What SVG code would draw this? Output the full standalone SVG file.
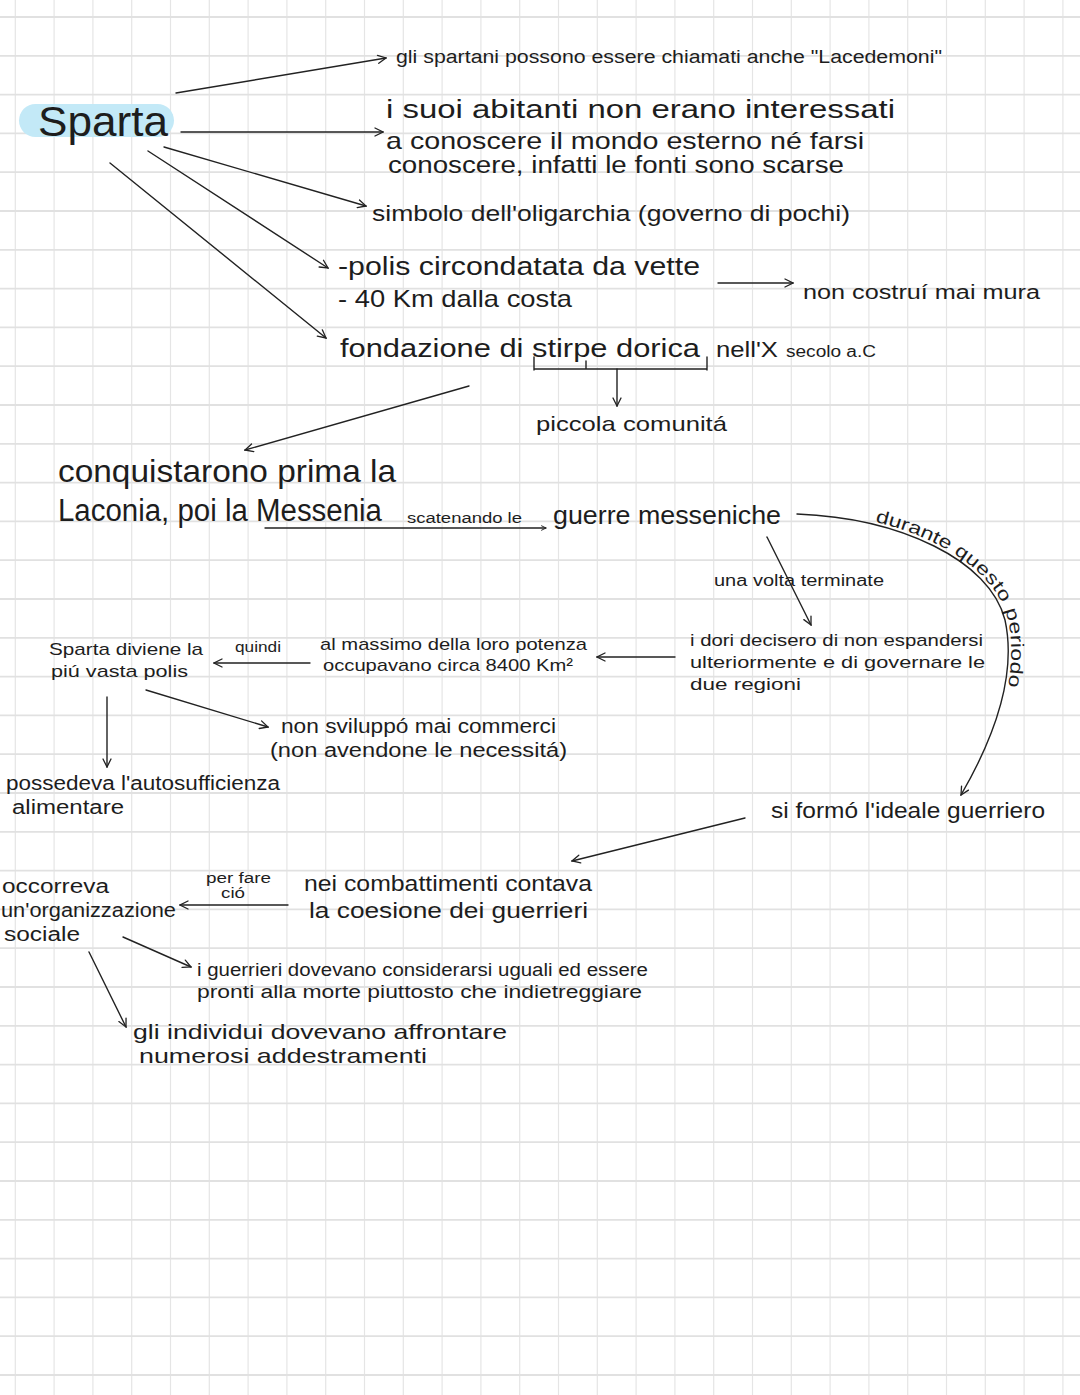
<svg xmlns="http://www.w3.org/2000/svg" width="1080" height="1395" viewBox="0 0 1080 1395">
<style>
.t{font-family:"Liberation Sans",Arial,sans-serif;fill:#1d1d1d}
.c{stroke:#222;stroke-width:1.4;fill:none;stroke-linecap:round}
.gv{stroke:#e5e5e5;stroke-width:1.2}
.gh{stroke:#e1e1e1;stroke-width:1.8}
</style>
<defs>
<marker id="ah" viewBox="0 0 10 10" refX="9" refY="5" markerWidth="10" markerHeight="10" markerUnits="userSpaceOnUse" orient="auto">
<path d="M1,1 L9,5 L1,9" fill="none" stroke="#222" stroke-width="1.3" stroke-linecap="round"/>
</marker>
<marker id="ahs" viewBox="0 0 10 10" refX="9" refY="5" markerWidth="6" markerHeight="6" markerUnits="userSpaceOnUse" orient="auto">
<path d="M1,1 L9,5 L1,9" fill="none" stroke="#222" stroke-width="1.6"/>
</marker>
<path id="arc" d="M797,514 C900,518 990,560 1005,620 C1018,680 990,745 961,795"/>
</defs>
<rect width="1080" height="1395" fill="#ffffff"/>
<g id="grid">
<g class="gv">
<line x1="15.3" y1="0" x2="15.3" y2="1395"/><line x1="54.1" y1="0" x2="54.1" y2="1395"/><line x1="92.9" y1="0" x2="92.9" y2="1395"/><line x1="131.7" y1="0" x2="131.7" y2="1395"/><line x1="170.5" y1="0" x2="170.5" y2="1395"/><line x1="209.3" y1="0" x2="209.3" y2="1395"/><line x1="248.1" y1="0" x2="248.1" y2="1395"/><line x1="286.9" y1="0" x2="286.9" y2="1395"/><line x1="325.7" y1="0" x2="325.7" y2="1395"/><line x1="364.5" y1="0" x2="364.5" y2="1395"/><line x1="403.3" y1="0" x2="403.3" y2="1395"/><line x1="442.1" y1="0" x2="442.1" y2="1395"/><line x1="480.9" y1="0" x2="480.9" y2="1395"/><line x1="519.7" y1="0" x2="519.7" y2="1395"/><line x1="558.5" y1="0" x2="558.5" y2="1395"/><line x1="597.3" y1="0" x2="597.3" y2="1395"/><line x1="636.1" y1="0" x2="636.1" y2="1395"/><line x1="674.9" y1="0" x2="674.9" y2="1395"/><line x1="713.7" y1="0" x2="713.7" y2="1395"/><line x1="752.5" y1="0" x2="752.5" y2="1395"/><line x1="791.3" y1="0" x2="791.3" y2="1395"/><line x1="830.1" y1="0" x2="830.1" y2="1395"/><line x1="868.9" y1="0" x2="868.9" y2="1395"/><line x1="907.7" y1="0" x2="907.7" y2="1395"/><line x1="946.5" y1="0" x2="946.5" y2="1395"/><line x1="985.3" y1="0" x2="985.3" y2="1395"/><line x1="1024.1" y1="0" x2="1024.1" y2="1395"/><line x1="1062.9" y1="0" x2="1062.9" y2="1395"/>
</g>
<g class="gh">
<line x1="0" y1="17" x2="1080" y2="17"/><line x1="0" y1="55.8" x2="1080" y2="55.8"/><line x1="0" y1="94.6" x2="1080" y2="94.6"/><line x1="0" y1="133.4" x2="1080" y2="133.4"/><line x1="0" y1="172.2" x2="1080" y2="172.2"/><line x1="0" y1="211" x2="1080" y2="211"/><line x1="0" y1="249.8" x2="1080" y2="249.8"/><line x1="0" y1="288.6" x2="1080" y2="288.6"/><line x1="0" y1="327.4" x2="1080" y2="327.4"/><line x1="0" y1="366.2" x2="1080" y2="366.2"/><line x1="0" y1="405" x2="1080" y2="405"/><line x1="0" y1="443.8" x2="1080" y2="443.8"/><line x1="0" y1="482.6" x2="1080" y2="482.6"/><line x1="0" y1="521.4" x2="1080" y2="521.4"/><line x1="0" y1="560.2" x2="1080" y2="560.2"/><line x1="0" y1="599" x2="1080" y2="599"/><line x1="0" y1="637.8" x2="1080" y2="637.8"/><line x1="0" y1="676.6" x2="1080" y2="676.6"/><line x1="0" y1="715.4" x2="1080" y2="715.4"/><line x1="0" y1="754.2" x2="1080" y2="754.2"/><line x1="0" y1="793" x2="1080" y2="793"/><line x1="0" y1="831.8" x2="1080" y2="831.8"/><line x1="0" y1="870.6" x2="1080" y2="870.6"/><line x1="0" y1="909.4" x2="1080" y2="909.4"/><line x1="0" y1="948.2" x2="1080" y2="948.2"/><line x1="0" y1="987" x2="1080" y2="987"/><line x1="0" y1="1025.8" x2="1080" y2="1025.8"/><line x1="0" y1="1064.6" x2="1080" y2="1064.6"/><line x1="0" y1="1103.4" x2="1080" y2="1103.4"/><line x1="0" y1="1142.2" x2="1080" y2="1142.2"/><line x1="0" y1="1181" x2="1080" y2="1181"/><line x1="0" y1="1219.8" x2="1080" y2="1219.8"/><line x1="0" y1="1258.6" x2="1080" y2="1258.6"/><line x1="0" y1="1297.4" x2="1080" y2="1297.4"/><line x1="0" y1="1336.2" x2="1080" y2="1336.2"/><line x1="0" y1="1375" x2="1080" y2="1375"/>
</g>
</g>

<g id="connectors">
<path class="c" marker-end="url(#ah)" d="M176,93 L386,58"/>
<path class="c" marker-end="url(#ah)" d="M181,132 L383,132"/>
<path class="c" marker-end="url(#ah)" d="M164,147 L366,206"/>
<path class="c" marker-end="url(#ah)" d="M148,151 L328,268"/>
<path class="c" marker-end="url(#ah)" d="M110,163 L326,338"/>
<path class="c" marker-end="url(#ah)" d="M718,283 L793,283"/>
<path class="c" d="M534,357 L534,370 M534,369 L707,369 M707,357 L707,370 M586,361 L586,369"/>
<path class="c" marker-end="url(#ah)" d="M617,369 L617,406"/>
<path class="c" marker-end="url(#ah)" d="M469,386 L245,450"/>
<path class="c" marker-end="url(#ahs)" d="M265,528 L546,528"/>
<path class="c" marker-end="url(#ah)" d="M797,514 C900,518 990,560 1005,620 C1018,680 990,745 961,795"/>
<path class="c" marker-end="url(#ah)" d="M767,537 L811,625"/>
<path class="c" marker-end="url(#ah)" d="M675,657 L597,657"/>
<path class="c" marker-end="url(#ah)" d="M310,663 L214,663"/>
<path class="c" marker-end="url(#ah)" d="M107,697 L107,767"/>
<path class="c" marker-end="url(#ah)" d="M146,690 L268,727"/>
<path class="c" marker-end="url(#ah)" d="M745,818 L572,861"/>
<path class="c" marker-end="url(#ah)" d="M288,905 L180,905"/>
<path class="c" marker-end="url(#ah)" d="M123,937 L191,967"/>
<path class="c" marker-end="url(#ah)" d="M89,952 L126,1027"/>
</g>

<g id="sparta">
<rect x="19" y="104" width="155" height="33" rx="16.5" fill="#c3e9f7"/>
<text class="t" x="38" y="136" font-size="42" textLength="130" lengthAdjust="spacingAndGlyphs">Sparta</text>
</g>
<g id="n-lacedemoni"><text class="t" x="396" y="63" font-size="18" textLength="546" lengthAdjust="spacingAndGlyphs">gli spartani possono essere chiamati anche "Lacedemoni"</text></g>
<g id="n-abitanti">
<text class="t" x="386" y="118" font-size="25" textLength="509" lengthAdjust="spacingAndGlyphs">i suoi abitanti non erano interessati</text>
<text class="t" x="386" y="149" font-size="24" textLength="478" lengthAdjust="spacingAndGlyphs">a conoscere il mondo esterno né farsi</text>
<text class="t" x="388" y="173" font-size="23" textLength="456" lengthAdjust="spacingAndGlyphs">conoscere, infatti le fonti sono scarse</text>
</g>
<g id="n-oligarchia"><text class="t" x="372" y="221" font-size="22" textLength="478" lengthAdjust="spacingAndGlyphs">simbolo dell'oligarchia (governo di pochi)</text></g>
<g id="n-polis">
<text class="t" x="338" y="275" font-size="25" textLength="362" lengthAdjust="spacingAndGlyphs">-polis circondatata da vette</text>
<text class="t" x="338" y="307" font-size="24" textLength="234" lengthAdjust="spacingAndGlyphs">- 40 Km dalla costa</text>
</g>
<g id="n-mura"><text class="t" x="803" y="299" font-size="20" textLength="237" lengthAdjust="spacingAndGlyphs">non costruí mai mura</text></g>
<g id="n-fondazione">
<text class="t" x="340" y="357" font-size="26" textLength="360" lengthAdjust="spacingAndGlyphs">fondazione di stirpe dorica</text>
<text class="t" x="716" y="357" font-size="22" textLength="62" lengthAdjust="spacingAndGlyphs">nell'X</text>
<text class="t" x="786" y="357" font-size="16" textLength="90" lengthAdjust="spacingAndGlyphs">secolo a.C</text>
</g>
<g id="n-comunita"><text class="t" x="536" y="431" font-size="21" textLength="191" lengthAdjust="spacingAndGlyphs">piccola comunitá</text></g>
<g id="n-conquista">
<text class="t" x="58" y="482" font-size="32" textLength="338" lengthAdjust="spacingAndGlyphs">conquistarono prima la</text>
<text class="t" x="58" y="521" font-size="31" textLength="324" lengthAdjust="spacingAndGlyphs">Laconia, poi la Messenia</text>
</g>
<g id="l-scatenando"><text class="t" x="407" y="523" font-size="14" textLength="115" lengthAdjust="spacingAndGlyphs">scatenando le</text></g>
<g id="n-guerre"><text class="t" x="553" y="524" font-size="25" textLength="228" lengthAdjust="spacingAndGlyphs">guerre messeniche</text></g>
<g id="l-durante">
<text class="t" font-size="18" dy="-3"><textPath href="#arc" startOffset="78" textLength="78" lengthAdjust="spacingAndGlyphs">durante</textPath></text>
<text class="t" font-size="18" dy="-3"><textPath href="#arc" startOffset="162" textLength="69" lengthAdjust="spacingAndGlyphs">questo</textPath></text>
<text class="t" font-size="18" dy="-3"><textPath href="#arc" startOffset="237.5" textLength="76.5" lengthAdjust="spacingAndGlyphs">periodo</textPath></text>
</g>
<g id="l-terminate"><text class="t" x="714" y="586" font-size="16" textLength="170" lengthAdjust="spacingAndGlyphs">una volta terminate</text></g>
<g id="n-dori">
<text class="t" x="690" y="646" font-size="17" textLength="293" lengthAdjust="spacingAndGlyphs">i dori decisero di non espandersi</text>
<text class="t" x="690" y="668" font-size="17" textLength="295" lengthAdjust="spacingAndGlyphs">ulteriormente e di governare le</text>
<text class="t" x="690" y="690" font-size="17" textLength="111" lengthAdjust="spacingAndGlyphs">due regioni</text>
</g>
<g id="n-potenza">
<text class="t" x="320" y="650" font-size="17" textLength="267" lengthAdjust="spacingAndGlyphs">al massimo della loro potenza</text>
<text class="t" x="323" y="671" font-size="17" textLength="250" lengthAdjust="spacingAndGlyphs">occupavano circa 8400 Km²</text>
</g>
<g id="l-quindi"><text class="t" x="235" y="652" font-size="15" textLength="46" lengthAdjust="spacingAndGlyphs">quindi</text></g>
<g id="n-vasta">
<text class="t" x="49" y="655" font-size="17" textLength="154" lengthAdjust="spacingAndGlyphs">Sparta diviene la</text>
<text class="t" x="51" y="677" font-size="17" textLength="137" lengthAdjust="spacingAndGlyphs">piú vasta polis</text>
</g>
<g id="n-commerci">
<text class="t" x="281" y="733" font-size="20" textLength="275" lengthAdjust="spacingAndGlyphs">non sviluppó mai commerci</text>
<text class="t" x="270" y="757" font-size="20" textLength="297" lengthAdjust="spacingAndGlyphs">(non avendone le necessitá)</text>
</g>
<g id="n-autosufficienza">
<text class="t" x="6" y="790" font-size="20" textLength="274" lengthAdjust="spacingAndGlyphs">possedeva l'autosufficienza</text>
<text class="t" x="12" y="814" font-size="20" textLength="112" lengthAdjust="spacingAndGlyphs">alimentare</text>
</g>
<g id="n-ideale"><text class="t" x="771" y="818" font-size="22" textLength="274" lengthAdjust="spacingAndGlyphs">si formó l'ideale guerriero</text></g>
<g id="n-coesione">
<text class="t" x="304" y="891" font-size="22" textLength="288" lengthAdjust="spacingAndGlyphs">nei combattimenti contava</text>
<text class="t" x="309" y="918" font-size="22" textLength="279" lengthAdjust="spacingAndGlyphs">la coesione dei guerrieri</text>
</g>
<g id="l-perfare">
<text class="t" x="206" y="883" font-size="14" textLength="65" lengthAdjust="spacingAndGlyphs">per fare</text>
<text class="t" x="221" y="898" font-size="14" textLength="24" lengthAdjust="spacingAndGlyphs">ció</text>
</g>
<g id="n-organizzazione">
<text class="t" x="2" y="893" font-size="20" textLength="107" lengthAdjust="spacingAndGlyphs">occorreva</text>
<text class="t" x="1" y="917" font-size="20" textLength="175" lengthAdjust="spacingAndGlyphs">un'organizzazione</text>
<text class="t" x="4" y="941" font-size="20" textLength="76" lengthAdjust="spacingAndGlyphs">sociale</text>
</g>
<g id="n-uguali">
<text class="t" x="197" y="976" font-size="18" textLength="451" lengthAdjust="spacingAndGlyphs">i guerrieri dovevano considerarsi uguali ed essere</text>
<text class="t" x="197" y="998" font-size="18" textLength="445" lengthAdjust="spacingAndGlyphs">pronti alla morte piuttosto che indietreggiare</text>
</g>
<g id="n-addestramenti">
<text class="t" x="133" y="1039" font-size="21" textLength="374" lengthAdjust="spacingAndGlyphs">gli individui dovevano affrontare</text>
<text class="t" x="139" y="1063" font-size="21" textLength="288" lengthAdjust="spacingAndGlyphs">numerosi addestramenti</text>
</g>
</svg>
